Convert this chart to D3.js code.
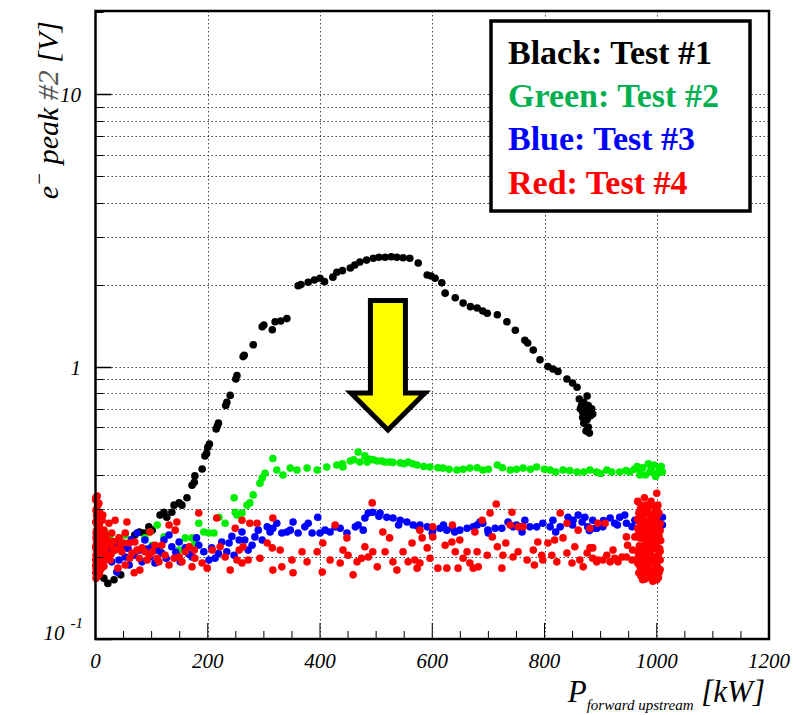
<!DOCTYPE html>
<html><head><meta charset="utf-8">
<script src="https://cdn.jsdelivr.net/npm/d3@7"></script>
<style>body{margin:0;background:#fff}svg{display:block}</style>
</head><body><svg id="c" width="793" height="715"></svg>
<script>
// ---- data (x: P forward upstream [kW], y: e- peak #2 [V]) ----
const xTickValues = [0, 200, 400, 600, 800, 1000, 1200];
const yMajorTicks = [0.1, 1, 10];
const yGridValues = [0.2,0.3,0.4,0.5,0.6,0.7,0.8,0.9,1,2,3,4,5,6,7,8,9,10];
const legendLabels = ["Black: Test #1", "Green: Test #2", "Blue: Test #3", "Red: Test #4"];
const legendColors = ["#000000", "#00b050", "#0000ff", "#ff0000"];
const seriesColors = ["#000000", "#00ee00", "#0000ff", "#ff0000"];

const blackPts = [[15,0.167],[33,0.165],[45,0.172],[22,0.160],[70,0.241],[78,0.247],[86,0.245],[95,0.258],[101,0.251],[115,0.285],[122,0.292],[127,0.280],[136,0.292],[140,0.310],[149,0.316],[154,0.310],[163,0.330],[172,0.367],[176,0.376],[177,0.397],[190,0.421],[195,0.470],[198,0.48],[200,0.506],[203,0.52],[215,0.59],[217,0.604],[219,0.62],[232,0.72],[234,0.739],[240,0.784],[250,0.90],[252,0.927],[263,1.088],[265,1.10],[281,1.203],[297,1.40],[300,1.42],[315,1.365],[320,1.46],[330,1.47],[341,1.50],[361,1.98],[366,2.00],[379,2.04],[390,2.08],[400,2.11],[408,2.05],[423,2.13],[430,2.22],[440,2.25],[454,2.30],[462,2.36],[471,2.42],[483,2.46],[495,2.50],[505,2.52],[516,2.52],[527,2.53],[537,2.52],[548,2.51],[560,2.50],[575,2.40],[591,2.17],[598,2.15],[605,2.11],[617,2.03],[623,1.86],[641,1.79],[655,1.71],[668,1.66],[680,1.64],[690,1.60],[698,1.57],[716,1.55],[733,1.46],[748,1.36],[765,1.25],[770,1.22],[780,1.15],[792,1.06],[806,1.0],[815,0.98],[824,0.96],[840,0.90],[850,0.87],[858,0.84],[862,0.76],[866,0.72],[870,0.74],[874,0.70],[868,0.68],[878,0.72],[872,0.66],[880,0.69],[876,0.64],[864,0.70],[882,0.66],[884,0.70],[870,0.62],[878,0.60],[874,0.58],[880,0.57],[886,0.67],[868,0.65],[876,0.78],[872,0.71]];

const greenPts = [[17,0.247],[26,0.241],[42,0.235],[53,0.241],[88,0.235],[97,0.247],[110,0.262],[101,0.221],[113,0.212],[122,0.237],[149,0.212],[160,0.235],[172,0.235],[177,0.225],[184,0.266],[193,0.247],[202,0.245],[211,0.245],[220,0.280],[231,0.266],[247,0.330],[249,0.292],[252,0.285],[261,0.290],[270,0.310],[275,0.316],[281,0.338],[293,0.373],[297,0.39],[302,0.406],[316,0.46],[323,0.417],[334,0.40],[347,0.424],[359,0.417],[377,0.424],[395,0.417],[412,0.428],[430,0.435],[440,0.44],[441,0.428],[454,0.45],[460,0.455],[468,0.486],[471,0.446],[480,0.47],[484,0.446],[489,0.457],[495,0.455],[502,0.45],[510,0.45],[516,0.446],[524,0.446],[530,0.445],[543,0.443],[550,0.44],[557,0.446],[565,0.44],[573,0.435],[585,0.43],[596,0.428],[610,0.425],[619,0.424],[630,0.42],[644,0.417],[655,0.42],[667,0.424],[680,0.425],[690,0.417],[700,0.42],[716,0.435],[725,0.425],[739,0.417],[750,0.42],[762,0.424],[775,0.42],[786,0.428],[800,0.42],[810,0.417],[820,0.41],[833,0.417],[845,0.415],[858,0.41],[870,0.41],[881,0.417],[893,0.41],[900,0.405],[911,0.417],[920,0.41],[934,0.41],[945,0.415],[952,0.41],[960,0.42],[970,0.417],[988,0.41],[965,0.43],[975,0.425],[980,0.40],[990,0.42],[995,0.435],[1000,0.405],[1005,0.42],[1010,0.41],[985,0.44],[998,0.395],[1008,0.43],[970,0.40]];

const bluePts = [[17,0.231],[38,0.176],[42,0.195],[47,0.218],[60,0.187],[69,0.203],[74,0.245],[83,0.192],[88,0.231],[97,0.200],[110,0.212],[118,0.207],[131,0.241],[136,0.218],[149,0.227],[151,0.192],[160,0.216],[172,0.200],[184,0.221],[193,0.209],[202,0.195],[213,0.198],[225,0.227],[238,0.225],[234,0.209],[247,0.203],[256,0.231],[29,0.192],[53,0.200],[24,0.212],[78,0.212],[101,0.218],[122,0.231],[12,0.218],[6,0.198],[3,0.231],[35,0.225],[58,0.215],[64,0.232],[92,0.214],[106,0.190],[126,0.198],[143,0.208],[166,0.205],[180,0.235],[207,0.216],[219,0.206],[243,0.238],[261,0.247],[266,0.231],[272,0.212],[279,0.221],[284,0.237],[290,0.251],[297,0.231],[306,0.258],[311,0.247],[316,0.255],[323,0.266],[332,0.245],[341,0.247],[347,0.251],[352,0.269],[361,0.245],[373,0.258],[379,0.266],[386,0.245],[396,0.280],[400,0.245],[409,0.251],[418,0.247],[427,0.258],[436,0.255],[448,0.245],[463,0.258],[477,0.251],[480,0.278],[486,0.290],[494,0.292],[507,0.290],[519,0.280],[530,0.278],[543,0.273],[555,0.269],[566,0.262],[575,0.258],[578,0.262],[591,0.258],[601,0.251],[614,0.255],[626,0.251],[636,0.255],[649,0.251],[662,0.255],[673,0.258],[685,0.269],[690,0.266],[699,0.251],[712,0.255],[724,0.255],[735,0.269],[744,0.258],[756,0.258],[765,0.273],[774,0.258],[786,0.258],[797,0.266],[810,0.258],[815,0.273],[828,0.258],[842,0.280],[851,0.273],[860,0.285],[867,0.269],[872,0.280],[877,0.258],[886,0.273],[893,0.255],[890,0.255],[904,0.258],[917,0.278],[925,0.266],[934,0.280],[943,0.285],[946,0.266],[956,0.258],[961,0.273],[1010,0.280],[1010,0.262],[1002,0.269],[600,0.245],[640,0.247],[700,0.245],[760,0.247],[820,0.247],[880,0.25],[468,0.262],[505,0.282],[540,0.262],[620,0.262],[680,0.262],[750,0.262],[850,0.262],[905,0.272],[930,0.262]];

const redPts = [[0.5,0.324],[4,0.310],[1,0.297],[8,0.290],[3,0.280],[12,0.273],[0.5,0.269],[6,0.258],[15,0.251],[1,0.245],[10,0.237],[3,0.231],[13,0.225],[0.5,0.219],[6,0.214],[17,0.209],[1,0.203],[8,0.198],[4,0.193],[13,0.190],[0.5,0.186],[10,0.181],[3,0.176],[6,0.172],[1,0.167],[12,0.201],[15,0.219],[4,0.241],[0.5,0.195],[8,0.221],[3,0.262],[13,0.285],[1,0.182],[17,0.195],[6,0.209],[2,0.30],[5,0.20],[7,0.23],[9,0.19],[11,0.21],[2,0.25],[5,0.27],[14,0.20],[1,0.215],[3,0.19],[7,0.175],[16,0.23],[0.5,0.33],[3,0.335],[6,0.315],
[2,0.225],[4,0.205],[5,0.245],[7,0.265],[9,0.215],[10,0.25],[11,0.195],[12,0.235],[14,0.215],[16,0.205],[2,0.185],[5,0.178],[8,0.185],[2,0.285],[4,0.27],[6,0.29],[9,0.24],[1,0.235],[3,0.21],[7,0.205],[11,0.225],[15,0.185],[0.5,0.175],[18,0.24],[20,0.22],[20,0.20],
[24,0.266],[35,0.273],[56,0.269],[29,0.245],[42,0.235],[53,0.245],[60,0.225],[70,0.227],[29,0.218],[47,0.209],[65,0.207],[78,0.198],[92,0.195],[83,0.216],[101,0.209],[113,0.192],[131,0.187],[140,0.198],[149,0.200],[154,0.192],[160,0.209],[131,0.262],[145,0.269],[142,0.251],[97,0.247],[118,0.221],[167,0.218],[176,0.212],[184,0.290],[177,0.198],[190,0.190],[208,0.212],[222,0.218],[231,0.200],[240,0.179],[252,0.195],[256,0.212],[249,0.255],[216,0.278],[69,0.175],[172,0.184],[199,0.182],[26,0.195],[40,0.182],[53,0.187],[79,0.179],[35,0.212],[61,0.198],[22,0.231],[44,0.221],[106,0.221],[124,0.203],[88,0.209],[32,0.228],[50,0.225],[74,0.212],[96,0.203],[110,0.198],[28,0.205],
[261,0.273],[275,0.266],[288,0.266],[316,0.278],[263,0.218],[261,0.190],[272,0.195],[293,0.198],[306,0.225],[315,0.216],[316,0.179],[329,0.212],[332,0.184],[350,0.195],[352,0.175],[368,0.209],[377,0.192],[395,0.209],[404,0.176],[405,0.225],[418,0.195],[427,0.262],[436,0.190],[441,0.212],[448,0.235],[450,0.203],[459,0.172],[466,0.192],[474,0.198],[480,0.218],[486,0.200],[493,0.316],[494,0.209],[502,0.184],[512,0.247],[516,0.209],[524,0.235],[530,0.192],[537,0.179],[548,0.209],[557,0.192],[564,0.225],[569,0.195],[573,0.182],
[578,0.251],[601,0.258],[582,0.235],[591,0.216],[596,0.198],[578,0.190],[601,0.237],[610,0.182],[623,0.221],[626,0.182],[635,0.227],[636,0.262],[641,0.209],[646,0.182],[649,0.231],[655,0.198],[662,0.209],[667,0.190],[673,0.182],[676,0.247],[680,0.209],[682,0.184],[689,0.273],[698,0.203],[703,0.290],[707,0.237],[714,0.313],[716,0.218],[724,0.182],[726,0.203],[731,0.225],[739,0.262],[742,0.292],[744,0.200],[753,0.258],[753,0.209],[762,0.258],[769,0.195],[780,0.212],[782,0.187],[788,0.227],[795,0.203],[797,0.195],[806,0.225],[813,0.203],[818,0.231],[822,0.192],[828,0.290],[833,0.235],[840,0.266],[840,0.207],[849,0.190],[854,0.218],[860,0.251],[863,0.195],[869,0.184],[876,0.207],[881,0.255],[886,0.216],[895,0.195],
[881,0.216],[886,0.198],[893,0.192],[895,0.266],[908,0.266],[904,0.195],[911,0.203],[917,0.192],[922,0.212],[925,0.198],[931,0.192],[938,0.200],[946,0.200],[946,0.237],[948,0.221],[956,0.195],[957,0.212],[961,0.237],[1000,0.343],
[966,0.32],[972,0.31],[978,0.33],[984,0.30],[990,0.32],[996,0.29],[1002,0.31],[968,0.29],[975,0.28],[981,0.27],[988,0.285],[994,0.27],[1000,0.28],[1006,0.265],[970,0.26],[977,0.25],[983,0.255],[990,0.245],[997,0.25],[1004,0.24],[966,0.24],[973,0.235],[980,0.23],[986,0.225],[993,0.235],[1000,0.22],[1007,0.23],[969,0.22],[976,0.215],[982,0.21],[989,0.205],[996,0.215],[1003,0.205],[967,0.20],[974,0.195],[980,0.19],[987,0.197],[994,0.19],[1001,0.185],[1006,0.195],[970,0.185],[977,0.18],[984,0.175],[991,0.178],[998,0.17],[1004,0.175],[972,0.17],[979,0.166],[986,0.168],[993,0.163],[1000,0.165],[975,0.21],[985,0.24],[995,0.20],[1005,0.215],[968,0.25],[990,0.26],[978,0.20],[1000,0.30],[982,0.31],
[971,0.30],[987,0.31],[998,0.305],[1004,0.29],[966,0.275],[979,0.29],[992,0.28],[1006,0.25],[973,0.27],[985,0.265],[997,0.26],[966,0.255],[978,0.24],[994,0.245],[1003,0.255],[970,0.235],[983,0.235],[997,0.228],[966,0.21],[979,0.22],[991,0.22],[1006,0.21],[971,0.205],[985,0.21],[998,0.195],[966,0.19],[983,0.185],[995,0.18],[1006,0.18],[968,0.175],[982,0.17],[996,0.175],[975,0.165],[989,0.17],[1003,0.168],[985,0.19],[973,0.18],[1000,0.20],[988,0.23],[975,0.26]];

// arrow annotation (data units)
const arrowX = 521, arrowTopV = 1.75, arrowHeadV = 0.80, arrowTipV = 0.585;

// ---- drawing ----
const svg = d3.select("#c");
const L = 95.5, R = 769, T = 11, B = 639;
const x = d3.scaleLinear().domain([0, 1200]).range([L, R]);
const y = d3.scaleLog().domain([0.1, 20.2]).range([B, T]);
const FONT = "'Liberation Serif','Times New Roman',serif";

// grid
const grid = svg.append("g").attr("stroke", "#444").attr("stroke-width", 1).attr("stroke-dasharray", "1.5,2.5");
grid.selectAll("line.h").data(yGridValues).join("line")
  .attr("x1", L).attr("x2", R).attr("y1", d => Math.round(y(d)) + 0.5).attr("y2", d => Math.round(y(d)) + 0.5);
grid.selectAll("line.v").data(xTickValues.filter(v => v > 0 && v < 1200)).join("line")
  .attr("y1", T).attr("y2", B).attr("x1", d => Math.round(x(d)) + 0.5).attr("x2", d => Math.round(x(d)) + 0.5);

// points
const allSeries = [blackPts, greenPts, bluePts, redPts];
allSeries.forEach((pts, i) => {
  svg.append("g").attr("fill", seriesColors[i]).selectAll("circle").data(pts).join("circle")
    .attr("cx", d => x(d[0])).attr("cy", d => y(d[1])).attr("r", 3.8);
});

// ticks
const tk = svg.append("g").attr("stroke", "#000").attr("stroke-width", 1);
const xMinor = d3.range(50, 1200, 50);
tk.selectAll("line.xm").data(xMinor).join("line")
  .attr("x1", d => x(d)).attr("x2", d => x(d)).attr("y1", B).attr("y2", d => B - (d % 200 === 0 ? 16 : 8));
const yMinor = [];
[0.1, 1, 10].forEach(dec => { for (let k = 2; k <= 9; k++) { const v = dec * k; if (v < 20.2) yMinor.push(v); } });
tk.selectAll("line.ym").data(yMinor).join("line")
  .attr("x1", L).attr("x2", L + 8).attr("y1", d => Math.round(y(d)) + 0.5).attr("y2", d => Math.round(y(d)) + 0.5);
tk.selectAll("line.yM").data(yMajorTicks).join("line").attr("stroke-width", 1.5)
  .attr("x1", L).attr("x2", L + 16).attr("y1", d => Math.round(y(d)) + 0.5).attr("y2", d => Math.round(y(d)) + 0.5);

// frame
svg.append("rect").attr("x", L).attr("y", T).attr("width", R - L).attr("height", B - T)
  .attr("fill", "none").attr("stroke", "#000").attr("stroke-width", 2.5);

// x tick labels
svg.append("g").selectAll("text").data(xTickValues).join("text")
  .attr("x", d => x(d)).attr("y", 668).attr("text-anchor", "middle")
  .attr("font-family", FONT).attr("font-style", "italic").attr("font-size", 21).text(d => d);

// y tick labels
const yl = svg.append("g").attr("font-family", FONT).attr("font-style", "italic").attr("font-size", 21).attr("text-anchor", "end");
yMajorTicks.forEach(v => {
  if (v === 0.1) {
    const t = yl.append("text").attr("x", 83).attr("y", y(v) + 1);
    t.append("tspan").text("10");
    t.append("tspan").attr("dx", 6).attr("dy", -12).attr("font-size", 15).text("-1");
  } else {
    yl.append("text").attr("x", 81).attr("y", y(v) + 8).text(v);
  }
});

// axis titles
const yt = svg.append("text").attr("transform", "translate(58,21) rotate(-90)").attr("text-anchor", "end")
  .attr("font-family", FONT).attr("font-style", "italic").attr("font-size", 30);
yt.append("tspan").text("e");
yt.append("tspan").attr("dy", -12).attr("font-size", 21).text("\u2212");
yt.append("tspan").attr("dy", 12).text(" peak ");
yt.append("tspan").attr("fill", "#555").text("#2");
yt.append("tspan").text(" [V]");

const xt = svg.append("text").attr("x", 765).attr("y", 702).attr("text-anchor", "end")
  .attr("font-family", FONT).attr("font-style", "italic").attr("font-size", 31);
xt.append("tspan").text("P");
xt.append("tspan").attr("dy", 8).attr("font-size", 15).text("forward upstream");
xt.append("tspan").attr("dy", -8).text(" [kW]");

// arrow
const ax = x(arrowX), yTop = y(arrowTopV), yHead = y(arrowHeadV), yTip = y(arrowTipV);
const sw = 17.5, hw = 37;
svg.append("path")
  .attr("d", `M${ax - sw},${yTop} L${ax + sw},${yTop} L${ax + sw},${yHead} L${ax + hw},${yHead} L${ax},${yTip} L${ax - hw},${yHead} L${ax - sw},${yHead} Z`)
  .attr("fill", "#ffff00").attr("stroke", "#000").attr("stroke-width", 5).attr("stroke-linejoin", "miter");

// legend
const lg = svg.append("g");
lg.append("rect").attr("x", 491).attr("y", 21).attr("width", 259).attr("height", 190)
  .attr("fill", "#fff").attr("stroke", "#000").attr("stroke-width", 3.5);
lg.selectAll("text").data(legendLabels).join("text")
  .attr("x", 508).attr("y", (d, i) => 64 + i * 43.2)
  .attr("font-family", FONT).attr("font-weight", "bold").attr("font-size", 34)
  .attr("fill", (d, i) => legendColors[i]).text(d => d);
</script></body></html>
